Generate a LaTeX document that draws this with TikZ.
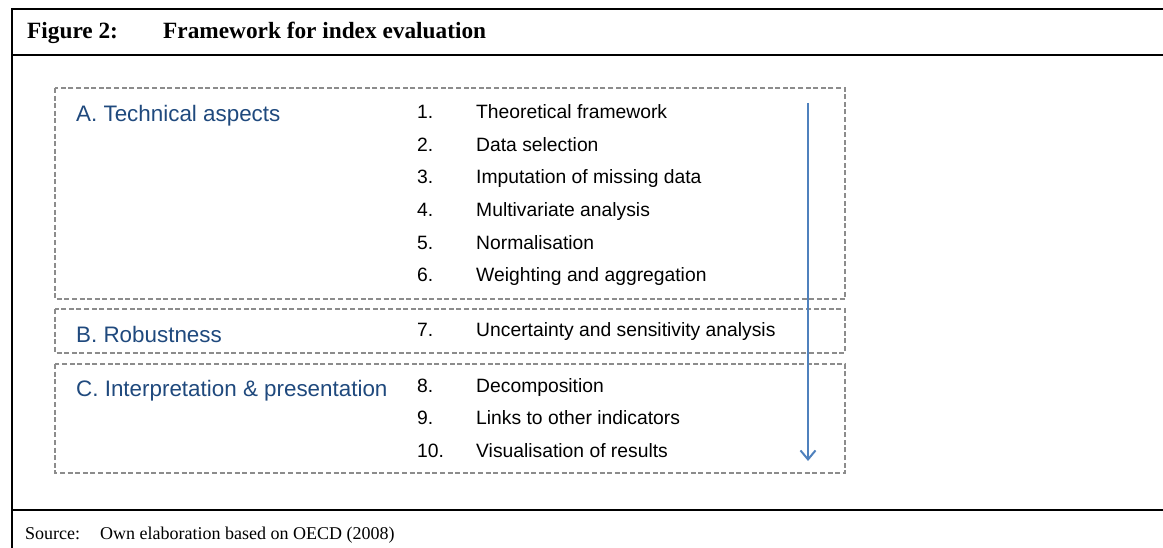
\documentclass[tikz,border=0pt]{standalone}
\usepackage{fontspec}
\setmainfont{Liberation Serif}
\newfontfamily\arialf{Liberation Sans}
\usetikzlibrary{arrows.meta}
\definecolor{labblue}{RGB}{31,73,125}
\definecolor{dashgray}{RGB}{140,140,140}
\definecolor{arrblue}{RGB}{79,129,189}
\tikzset{
  frame/.style={line width=2pt, black},
  dashbox/.style={draw=dashgray, line width=1.3pt, dash pattern=on 5pt off 2.6pt},
  grouplab/.style={anchor=base west, inner sep=0pt, text=labblue, font=\arialf\fontsize{22.4}{26}\selectfont},
  itemnum/.style={anchor=base west, inner sep=0pt, font=\arialf\fontsize{19.3}{23}\selectfont},
  itemtxt/.style={anchor=base west, inner sep=0pt, font=\arialf\fontsize{19.3}{23}\selectfont},
  titletxt/.style={anchor=base west, inner sep=0pt, font=\bfseries\fontsize{23.3}{27}\selectfont},
  srctxt/.style={anchor=base west, inner sep=0pt, font=\fontsize{18}{22}\selectfont},
  flow/.style={arrblue, line width=2pt, -{Straight Barb[length=9pt, width=15pt, line width=2pt]}}
}
\begin{document}
\begin{tikzpicture}[x=1pt, y=-1pt]
\useasboundingbox (0,0) rectangle (1163,548);
% frame
\draw[frame] (1163,9) -- (12,9) -- (12,548);
\draw[frame] (12,55) -- (1163,55);
\draw[frame] (12,510) -- (1163,510);
% title
\node[titletxt] (fig) at (27,39) {Figure 2:};
\node[titletxt] (figtitle) at (163,39) {Framework for index evaluation};
% source
\node[srctxt] (src) at (25,539) {Source:};
\node[srctxt] (srctext) at (100,539) {Own elaboration based on OECD (2008)};
% dashed boxes
\draw[dashbox] (55,88) rectangle (845,299);
\draw[dashbox] (55,309) rectangle (845,353);
\draw[dashbox] (55,364) rectangle (845,473);
% group labels
\node[grouplab] (labA) at (76,122) {A. Technical aspects};
\node[grouplab] (labB) at (76,342) {B. Robustness};
\node[grouplab] (labC) at (76,396) {C. Interpretation \& presentation};
% items
\node[itemnum] (n1) at (417,119) {1.};
\node[itemtxt] (t1) at (476,119) {Theoretical framework};
\node[itemnum] (n2) at (417,152) {2.};
\node[itemtxt] (t2) at (476,152) {Data selection};
\node[itemnum] (n3) at (417,184) {3.};
\node[itemtxt] (t3) at (476,184) {Imputation of missing data};
\node[itemnum] (n4) at (417,217) {4.};
\node[itemtxt] (t4) at (476,217) {Multivariate analysis};
\node[itemnum] (n5) at (417,250) {5.};
\node[itemtxt] (t5) at (476,250) {Normalisation};
\node[itemnum] (n6) at (417,282) {6.};
\node[itemtxt] (t6) at (476,282) {Weighting and aggregation};
\node[itemnum] (n7) at (417,337) {7.};
\node[itemtxt] (t7) at (476,337) {Uncertainty and sensitivity analysis};
\node[itemnum] (n8) at (417,392) {8.};
\node[itemtxt] (t8) at (476,392) {Decomposition};
\node[itemnum] (n9) at (417,424) {9.};
\node[itemtxt] (t9) at (476,424) {Links to other indicators};
\node[itemnum] (n10) at (417,457) {10.};
\node[itemtxt] (t10) at (476,457) {Visualisation of results};
% arrow
\coordinate (arrtop) at (808,103);
\coordinate (arrbot) at (808,461);
\draw[flow] (arrtop) -- (arrbot);
\end{tikzpicture}
\end{document}
